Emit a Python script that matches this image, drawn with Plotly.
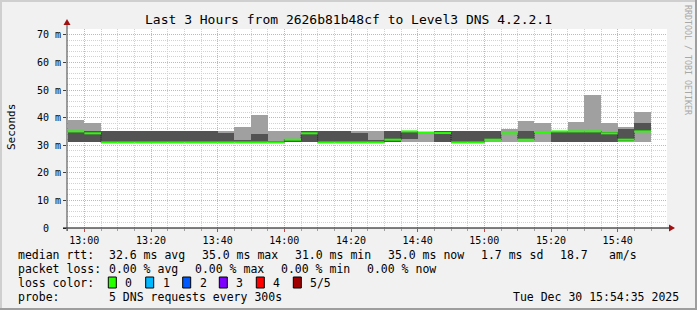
import plotly.graph_objects as go
import pandas as pd

# ---------------- data ----------------
day = "2025-12-30"
bin_end = ["13:00", "13:05", "13:10", "13:15", "13:20", "13:25", "13:30", "13:35",
           "13:40", "13:45", "13:50", "13:55", "14:00", "14:05", "14:10", "14:15",
           "14:20", "14:25", "14:30", "14:35", "14:40", "14:45", "14:50", "14:55",
           "15:00", "15:05", "15:10", "15:15", "15:20", "15:25", "15:30", "15:35",
           "15:40", "15:45", "15:50"]
ping_min = [31, 31, 31, 31, 31, 31, 31, 31, 31, 31, 31, 31, 31, 31, 31, 31, 31, 31,
            31, 31, 31, 31, 31, 31, 31, 31, 31, 31, 31, 31, 31, 31, 31, 31, 31]
ping_2 = [31, 31, 31, 31, 31, 31, 31, 31, 31, 31, 31, 31, 31, 31, 31, 31, 31, 31,
          31, 31, 32.2, 34.6, 31, 31, 31, 32, 34.3, 32, 34.8, 31, 31, 31, 31, 31.7, 35]
ping_med = [35, 34.3, 31, 31, 31, 31, 31, 31, 31, 31, 31, 31, 31, 32, 34.3, 31, 31, 31,
            31, 32, 35, 34.6, 34.4, 31, 31, 32, 34.3, 32, 34.8, 35, 35, 35, 34.3, 32, 35]
ping_4 = [35, 35, 35, 35, 35, 35, 35, 35, 35, 34.3, 32, 34.2, 31.3, 32.2, 35, 35, 35, 34.3,
          32, 35, 35, 34.6, 35, 35, 35, 35, 34.3, 35, 34.8, 35.2, 35, 35, 34.8, 36, 38.2]
ping_max = [39, 38.2, 35, 35, 35, 35, 35, 35, 35, 35, 36.7, 41, 35, 35, 35, 35, 35, 35,
            35, 35, 35.2, 34.8, 35, 35, 35, 35, 36, 38.9, 38, 35.2, 38.5, 48.3, 38.1, 36.7, 42.1]

y_tick_vals = [0, 10, 20, 30, 40, 50, 60, 70]
y_tick_text = ["0\u00a0\u00a0", "10 m", "20 m", "30 m", "40 m", "50 m", "60 m", "70 m"]

title_text = "Last 3 Hours from 2626b81b48cf to Level3 DNS 4.2.2.1"
loss_labels = ["0", "1", "2", "3", "4", "5/5"]
loss_colors = ["#26ff00", "#00b8ff", "#0059ff", "#7e00ff", "#ff0000", "#a10000"]

# ---------------- geometry helpers ----------------
W, H = 697, 310
L, R, T, B = 67, 30, 29, 82
PW, PH = W - L - R, H - T - B


def px(x):
    return (x - L) / PW


def py(y):
    return (H - B - y) / PH


FONT = "DejaVu Sans Mono"

ends = pd.to_datetime([f"{day} {t}" for t in bin_end])
starts = ends - pd.Timedelta(minutes=5)
centers = ends - pd.Timedelta(seconds=150)
fmt = "%Y-%m-%d %H:%M:%S"
cx = [c.strftime(fmt) for c in centers]
sx = [s.strftime(fmt) for s in starts]
ex = [e.strftime(fmt) for e in ends]

fig = go.Figure()

fig.add_trace(go.Bar(
    x=cx, y=[b - a for a, b in zip(ping_min, ping_max)], base=ping_min,
    width=300000, marker=dict(color="#a0a0a0", line=dict(width=0)),
    hoverinfo="skip", showlegend=False))
fig.add_trace(go.Bar(
    x=cx, y=[b - a for a, b in zip(ping_2, ping_4)], base=ping_2,
    width=300000, marker=dict(color="#535353", line=dict(width=0)),
    hoverinfo="skip", showlegend=False))

# vertical connectors of the median steps
vx, vy = [], []
for i in range(1, len(ping_med)):
    if ping_med[i] != ping_med[i - 1]:
        vx += [sx[i], sx[i], None]
        vy += [ping_med[i - 1], ping_med[i], None]
fig.add_trace(go.Scatter(x=vx, y=vy, mode="lines",
                         line=dict(color="#202020", width=1, dash="1px,1px"),
                         hoverinfo="skip", showlegend=False))

mx, my = [], []
for s, e, m in zip(sx, ex, ping_med):
    mx += [s, e, None]
    my += [m, m, None]
fig.add_trace(go.Scatter(x=mx, y=my, mode="lines",
                         line=dict(color="#26ff00", width=2),
                         hoverinfo="skip", showlegend=False))

shapes = []
# frame shading
shapes.append(dict(type="rect", xref="paper", yref="paper", x0=px(0), x1=px(W), y0=py(0), y1=py(2),
                   fillcolor="#cfcfcf", line=dict(width=0), layer="below"))
shapes.append(dict(type="rect", xref="paper", yref="paper", x0=px(0), x1=px(2), y0=py(0), y1=py(H),
                   fillcolor="#cfcfcf", line=dict(width=0), layer="below"))
shapes.append(dict(type="rect", xref="paper", yref="paper", x0=px(W - 2), x1=px(W), y0=py(0), y1=py(H),
                   fillcolor="#9e9e9e", line=dict(width=0)))
shapes.append(dict(type="rect", xref="paper", yref="paper", x0=px(0), x1=px(W), y0=py(H - 2), y1=py(H),
                   fillcolor="#9e9e9e", line=dict(width=0)))
# axes
shapes.append(dict(type="line", xref="paper", yref="paper", x0=px(63), x1=px(671), y0=py(228), y1=py(228),
                   line=dict(color="#000000", width=1)))
shapes.append(dict(type="line", xref="paper", yref="paper", x0=px(67), x1=px(67), y0=py(231), y1=py(24),
                   line=dict(color="#404040", width=1)))
# arrows
shapes.append(dict(type="path", xref="paper", yref="paper",
                   path=f"M {px(669)} {py(224.5)} L {px(675)} {py(228)} L {px(669)} {py(231.5)} Z",
                   fillcolor="#a01010", line=dict(width=0)))
shapes.append(dict(type="path", xref="paper", yref="paper",
                   path=f"M {px(63.5)} {py(25)} L {px(67)} {py(19)} L {px(70.5)} {py(25)} Z",
                   fillcolor="#a01010", line=dict(width=0)))

annotations = []


def txt(x, y, s, size=11.5, anchor="left", color="#000000", angle=0):
    annotations.append(dict(xref="paper", yref="paper", x=px(x), y=py(y), text=s,
                            showarrow=False, xanchor=anchor, yanchor="middle",
                            textangle=angle,
                            font=dict(family=FONT, size=size, color=color)))


txt(348.5, 19, title_text, size=13, anchor="center")
txt(11, 127, "Seconds", size=11, anchor="center", angle=-90)
txt(688, 60, "RRDTOOL / TOBI OETIKER", size=8.3, anchor="center", color="#a8a8a8", angle=90)

r1, r2, r3, r4 = 254.5, 268.5, 282.5, 296.5
txt(16, r1, "median rtt:")
txt(107.3, r1, "32.6 ms avg")
txt(200, r1, "35.0 ms max")
txt(293.3, r1, "31.0 ms min")
txt(385.7, r1, "35.0 ms now")
txt(479.3, r1, "1.7 ms sd")
txt(558.3, r1, "18.7")
txt(607.3, r1, "am/s")

txt(16, r2, "packet loss:")
txt(107.3, r2, "0.00 % avg")
txt(193.3, r2, "0.00 % max")
txt(279.3, r2, "0.00 % min")
txt(365, r2, "0.00 % now")

txt(16, r3, "loss color:")
box_x = [108.3, 145.7, 182.7, 219.3, 256.3, 293.3]
for bx, lab, col in zip(box_x, loss_labels, loss_colors):
    shapes.append(dict(type="rect", xref="paper", yref="paper", x0=px(bx), x1=px(bx + 8),
                       y0=py(r3 - 5.5), y1=py(r3 + 5.5), fillcolor=col,
                       line=dict(color="#000000", width=1)))
    txt(bx + 15, r3, lab)

txt(16, r4, "probe:")
txt(107.3, r4, "5 DNS requests every 300s")
txt(680.5, r4, "Tue Dec 30 15:54:35 2025", anchor="right")

major_grid = "#f3a3a3"
minor_grid = "#d2d2d2"

fig.update_layout(
    width=W, height=H,
    margin=dict(l=L, r=R, t=T, b=B, pad=0),
    paper_bgcolor="#f1f1f1", plot_bgcolor="#ffffff",
    barmode="overlay", bargap=0,
    showlegend=False,
    shapes=shapes, annotations=annotations,
    font=dict(family=FONT, size=10, color="#000000"),
    xaxis=dict(
        type="date",
        range=[f"{day} 12:54:48", f"{day} 15:54:48"],
        dtick=1200000, tickformat="%H:%M",
        showgrid=True, gridcolor=major_grid, griddash="1px,1px", gridwidth=1,
        ticks="outside", ticklen=3, tickcolor="#d04040",
        tickfont=dict(family=FONT, size=10, color="#000000"),
        minor=dict(dtick=300000, showgrid=True, gridcolor=minor_grid, griddash="1px,1px",
                   ticks="outside", ticklen=2, tickcolor="#a0a0a0"),
        showline=False, zeroline=False, fixedrange=True,
    ),
    yaxis=dict(
        range=[0, 72.1],
        tickvals=y_tick_vals, ticktext=y_tick_text,
        showgrid=True, gridcolor=major_grid, griddash="1px,1px", gridwidth=1,
        ticks="outside", ticklen=3, tickcolor="#404040",
        tickfont=dict(family=FONT, size=10, color="#000000"),
        minor=dict(dtick=2, showgrid=True, gridcolor=minor_grid, griddash="1px,1px"),
        showline=False, zeroline=False, fixedrange=True,
    ),
)

fig.write_html("out.html")
